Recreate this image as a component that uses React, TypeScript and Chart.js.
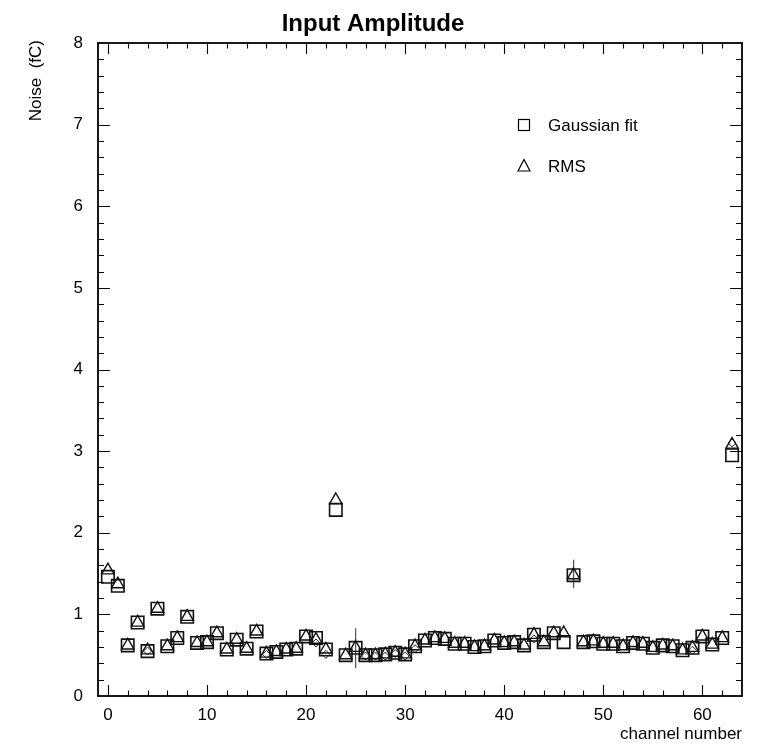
import React, { useEffect, useRef } from "react";
import { Chart, registerables } from "chart.js";

Chart.register(...registerables);

const channels = [
  0, 1, 2, 3, 4, 5, 6, 7, 8, 9, 10, 11, 12, 13, 14, 15,
  16, 17, 18, 19, 20, 21, 22, 23, 24, 25, 26, 27, 28, 29, 30, 31,
  32, 33, 34, 35, 36, 37, 38, 39, 40, 41, 42, 43, 44, 45, 46, 47,
  48, 49, 50, 51, 52, 53, 54, 55, 56, 57, 58, 59, 60, 61, 62, 63,
];

const gaussianFit = [
  1.46, 1.35, 0.62, 0.9, 0.55, 1.07, 0.61, 0.71, 0.97, 0.65, 0.66, 0.77, 0.57, 0.69, 0.58, 0.79,
  0.52, 0.54, 0.57, 0.58, 0.73, 0.71, 0.57, 2.28, 0.5, 0.59, 0.5, 0.5, 0.51, 0.53, 0.51, 0.61,
  0.68, 0.71, 0.7, 0.64, 0.64, 0.6, 0.61, 0.68, 0.65, 0.66, 0.62, 0.75, 0.66, 0.77, 0.66, 1.48,
  0.66, 0.67, 0.64, 0.64, 0.61, 0.65, 0.64, 0.59, 0.62, 0.61, 0.56, 0.59, 0.73, 0.63, 0.71, 2.95,
];

const rms = [
  1.54, 1.37, 0.62, 0.9, 0.56, 1.07, 0.61, 0.71, 0.97, 0.65, 0.66, 0.77, 0.57, 0.69, 0.58, 0.79,
  0.52, 0.54, 0.57, 0.58, 0.73, 0.69, 0.57, 2.4, 0.5, 0.59, 0.5, 0.5, 0.51, 0.53, 0.51, 0.61,
  0.68, 0.71, 0.7, 0.64, 0.64, 0.6, 0.61, 0.68, 0.65, 0.66, 0.62, 0.75, 0.66, 0.77, 0.77, 1.48,
  0.66, 0.67, 0.64, 0.64, 0.61, 0.65, 0.64, 0.59, 0.62, 0.61, 0.56, 0.59, 0.73, 0.63, 0.71, 3.08,
];

// small open diamonds visible underneath some markers
const diamondChannels = [4, 16, 21, 22, 26, 27, 28, 29, 30, 31, 43, 59, 63];
const diamondValues = [0.55, 0.51, 0.65, 0.51, 0.49, 0.49, 0.49, 0.52, 0.49, 0.58, 0.7, 0.56, 3.1];

const errChannels = [25, 47];
const errValuesLow = [0.34, 1.32];
const errValuesHigh = [0.83, 1.67];

const xTickValues = [0, 10, 20, 30, 40, 50, 60];
const yTickValues = [0, 1, 2, 3, 4, 5, 6, 7, 8];

const titleText = "Input Amplitude";
const xTitleText = "channel number";
const yTitleText = "Noise  (fC)";

const FONT = '"Liberation Sans", Arial, Helvetica, sans-serif';

export default function App() {
  const ref = useRef<HTMLCanvasElement>(null);

  useEffect(() => {
    document.body.style.margin = "0";
    const canvas = ref.current;
    if (!canvas) return;

    const rootPlugin = {
      id: "rootStyle",
      beforeDatasetsDraw(chart: any) {
        const { ctx, scales } = chart;
        const xs = scales.x;
        const ys = scales.y;
        ctx.save();
        ctx.strokeStyle = "#555";
        ctx.lineWidth = 1.3;
        errChannels.forEach((c, i) => {
          const px = xs.getPixelForValue(c);
          ctx.beginPath();
          ctx.moveTo(px, ys.getPixelForValue(errValuesLow[i]));
          ctx.lineTo(px, ys.getPixelForValue(errValuesHigh[i]));
          ctx.stroke();
        });
        ctx.restore();
      },
      afterDraw(chart: any) {
        const { ctx, chartArea: a, scales } = chart;
        const xs = scales.x;
        const ys = scales.y;
        ctx.save();
        ctx.strokeStyle = "#000";
        // frame
        ctx.lineWidth = 1.8;
        ctx.strokeRect(a.left, a.top, a.right - a.left, a.bottom - a.top);

        ctx.lineWidth = 1.1;
        // x ticks (bottom + top), inward
        for (let v = 0; v < 64; v += 2) {
          const px = Math.round(xs.getPixelForValue(v)) + 0.5;
          const major = v % 10 === 0;
          const len = major ? 11 : 5.5;
          ctx.beginPath();
          ctx.moveTo(px, a.bottom);
          ctx.lineTo(px, a.bottom - len);
          ctx.moveTo(px, a.top);
          ctx.lineTo(px, a.top + len);
          ctx.stroke();
        }
        // y ticks (left + right), inward
        for (let k = 1; k < 40; k++) {
          const v = k * 0.2;
          const py = Math.round(ys.getPixelForValue(v)) + 0.5;
          const major = k % 5 === 0;
          const len = major ? 12 : 6;
          ctx.beginPath();
          ctx.moveTo(a.left, py);
          ctx.lineTo(a.left + len, py);
          ctx.moveTo(a.right, py);
          ctx.lineTo(a.right - len, py);
          ctx.stroke();
        }

        // title
        ctx.fillStyle = "#000";
        ctx.font = `bold 24px ${FONT}`;
        ctx.textAlign = "center";
        ctx.textBaseline = "alphabetic";
        ctx.fillText(titleText, 373, 31);

        // x title
        ctx.font = `17px ${FONT}`;
        ctx.textAlign = "right";
        ctx.fillText(xTitleText, a.right, 739);

        // y title
        ctx.save();
        ctx.translate(36, a.top - 3);
        ctx.rotate(-Math.PI / 2);
        ctx.textAlign = "right";
        ctx.textBaseline = "middle";
        ctx.fillText(yTitleText, 0, 0);
        ctx.restore();

        // legend
        const ds = chart.data.datasets;
        const lx = a.left + 426;
        const ly1 = a.top + 82;
        const ly2 = a.top + 123;
        ctx.lineWidth = 1.2;
        ctx.strokeRect(lx - 5.5, ly1 - 5.5, 11, 11);
        ctx.beginPath();
        ctx.moveTo(lx, ly2 - 6.5);
        ctx.lineTo(lx + 6, ly2 + 5);
        ctx.lineTo(lx - 6, ly2 + 5);
        ctx.closePath();
        ctx.stroke();
        ctx.font = `17px ${FONT}`;
        ctx.textAlign = "left";
        ctx.textBaseline = "middle";
        ctx.fillText(ds[0].label, lx + 24, ly1 + 1);
        ctx.fillText(ds[1].label, lx + 24, ly2 + 1);
        ctx.restore();
      },
    };

    const chart = new Chart(canvas, {
      type: "scatter",
      data: {
        datasets: [
          {
            label: "Gaussian fit",
            data: channels.map((c, i) => ({ x: c, y: gaussianFit[i] })),
            pointStyle: "rect",
            pointRadius: 8.8,
            pointHoverRadius: 8.8,
            borderColor: "#111",
            backgroundColor: "rgba(0,0,0,0)",
            borderWidth: 1.6,
          },
          {
            label: "RMS",
            data: channels.map((c, i) => ({ x: c, y: rms[i] })),
            pointStyle: "triangle",
            pointRadius: 7.1,
            pointHoverRadius: 7.1,
            borderColor: "#111",
            backgroundColor: "rgba(0,0,0,0)",
            borderWidth: 1.4,
          },
          {
            label: "",
            data: diamondChannels.map((c, i) => ({ x: c, y: diamondValues[i] })),
            pointStyle: "rectRot",
            pointRadius: 4,
            pointHoverRadius: 4,
            borderColor: "#222",
            backgroundColor: "rgba(0,0,0,0)",
            borderWidth: 1,
          },
        ],
      },
      options: {
        responsive: false,
        animation: false,
        events: [],
        layout: { padding: { top: 43, right: 17, left: 0, bottom: 0 } },
        plugins: {
          legend: { display: false },
          tooltip: { enabled: false },
          title: { display: false },
        },
        scales: {
          x: {
            type: "linear",
            min: -1,
            max: 64,
            afterFit: (s: any) => {
              s.height = 48;
            },
            afterBuildTicks: (s: any) => {
              s.ticks = xTickValues.map((v) => ({ value: v }));
            },
            grid: { display: false, drawTicks: false },
            border: { display: false },
            ticks: {
              font: { family: FONT, size: 17 },
              color: "#000",
              padding: 9,
              maxRotation: 0,
              autoSkip: false,
            },
          },
          y: {
            type: "linear",
            min: 0,
            max: 8,
            afterFit: (s: any) => {
              s.width = 98;
            },
            afterBuildTicks: (s: any) => {
              s.ticks = yTickValues.map((v) => ({ value: v }));
            },
            grid: { display: false, drawTicks: false },
            border: { display: false },
            ticks: {
              font: { family: FONT, size: 17 },
              color: "#000",
              padding: 15,
              autoSkip: false,
            },
          },
        },
      },
      plugins: [rootPlugin],
    } as any);

    return () => chart.destroy();
  }, []);

  return (
    <div style={{ width: 759, height: 744, background: "#fff" }}>
      <canvas ref={ref} width={759} height={744} style={{ display: "block" }} />
    </div>
  );
}
